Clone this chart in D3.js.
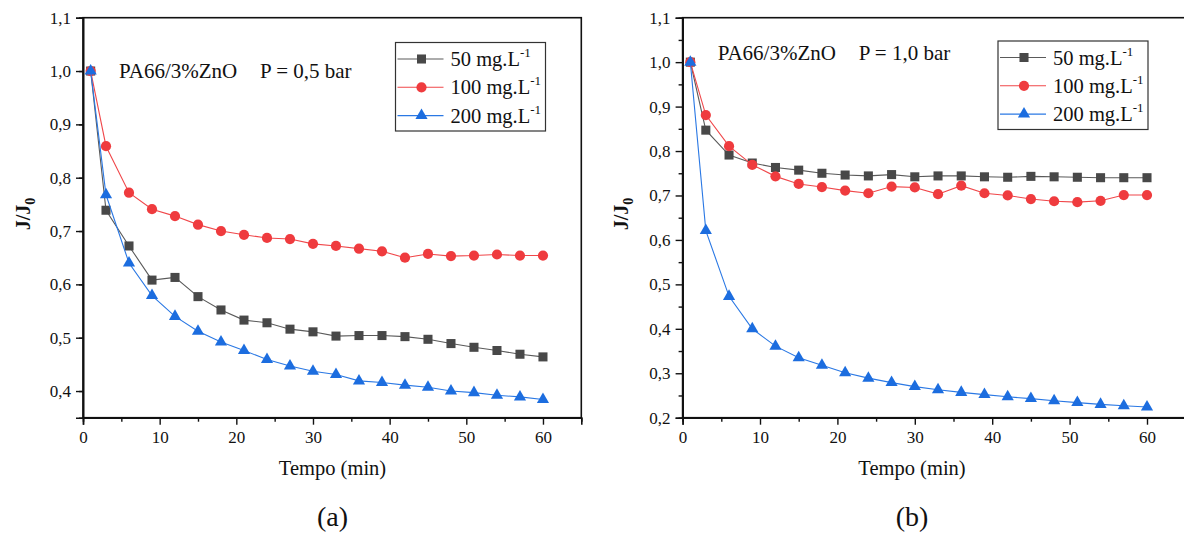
<!DOCTYPE html>
<html>
<head>
<meta charset="utf-8">
<script src="https://cdn.jsdelivr.net/npm/d3@7"></script>
<style>
  body { margin: 0; background: #fff; }
</style>
</head>
<body>
<svg id="chart" width="1184" height="533"></svg>
<script>
(function () {
  'use strict';

  // tempo (min)
  var tempo = [1, 3, 6, 9, 12, 15, 18, 21, 24, 27, 30, 33, 36, 39, 42, 45, 48, 51, 54, 57, 60];

  // (a) P = 0,5 bar
  var a50 = [1.0, 0.739, 0.672, 0.608, 0.613, 0.577, 0.552, 0.533, 0.528, 0.516, 0.511,
             0.503, 0.504, 0.504, 0.502, 0.497, 0.489, 0.482, 0.476, 0.469, 0.464];
  var a100 = [1.0, 0.859, 0.772, 0.741, 0.728, 0.712, 0.700, 0.693, 0.687, 0.685, 0.676,
              0.672, 0.667, 0.662, 0.650, 0.657, 0.653, 0.654, 0.656, 0.654, 0.654];
  var a200 = [1.0, 0.768, 0.640, 0.579, 0.540, 0.512, 0.492, 0.476, 0.459, 0.447, 0.437,
              0.431, 0.419, 0.416, 0.411, 0.407, 0.400, 0.397, 0.392, 0.389, 0.384];

  // (b) P = 1,0 bar
  var b50 = [1.0, 0.847, 0.791, 0.773, 0.763, 0.757, 0.750, 0.746, 0.744, 0.747, 0.742,
             0.744, 0.744, 0.742, 0.741, 0.743, 0.742, 0.741, 0.740, 0.740, 0.740];
  var b100 = [1.0, 0.881, 0.811, 0.769, 0.743, 0.726, 0.719, 0.711, 0.705, 0.720, 0.718,
              0.703, 0.722, 0.705, 0.700, 0.692, 0.687, 0.685, 0.688, 0.701, 0.701];
  var b200 = [1.0, 0.621, 0.473, 0.400, 0.361, 0.335, 0.318, 0.301, 0.289, 0.279, 0.270,
              0.263, 0.257, 0.252, 0.247, 0.243, 0.238, 0.234, 0.230, 0.227, 0.224];

  var seriesNames = ['50 mg.L', '100 mg.L', '200 mg.L'];
  var xTicks = [0, 10, 20, 30, 40, 50, 60];
  var yTicksA = [0.4, 0.5, 0.6, 0.7, 0.8, 0.9, 1.0, 1.1];
  var yTicksB = [0.2, 0.3, 0.4, 0.5, 0.6, 0.7, 0.8, 0.9, 1.0, 1.1];

  var styles = [
    {line: '#5a5a5a', fill: '#484848', shape: d3.symbolSquare},
    {line: '#f0474a', fill: '#ef3b3e', shape: d3.symbolCircle},
    {line: '#2a78e4', fill: '#1c6ddf', shape: d3.symbolTriangle}
  ];

  var FONT = '"Liberation Serif", "Times New Roman", serif';
  var svg = d3.select('#chart');
  var comma = function (v) { return d3.format('.1f')(v).replace('.', ','); };

  function drawPanel(p) {
    var x = d3.scaleLinear().domain([0, 65]).range([p.left, p.right]),
        y = d3.scaleLinear().domain(p.yDomain).range([417.7, 17.7]);

    var g = svg.append('g');

    // frame
    g.append('rect')
        .attr('x', x(0)).attr('y', y(p.yDomain[1]))
        .attr('width', x(65) - x(0)).attr('height', y(p.yDomain[0]) - y(p.yDomain[1]))
        .attr('fill', 'none').attr('stroke', '#111').attr('stroke-width', 1.6);

    // x axis
    var xAxis = d3.axisBottom(x).tickValues(xTicks).tickSize(7).tickPadding(6).tickFormat(d3.format('d'));
    g.append('g').attr('transform', 'translate(0,' + y(p.yDomain[0]) + ')').call(xAxis);
    g.append('g').attr('transform', 'translate(0,' + y(p.yDomain[0]) + ')')
        .call(d3.axisBottom(x).tickValues(d3.range(5, 65, 10)).tickSize(4).tickFormat(''));

    // y axis
    var yAxis = d3.axisLeft(y).tickValues(p.yTicks).tickSize(7).tickPadding(5).tickFormat(comma);
    g.append('g').attr('transform', 'translate(' + x(0) + ',0)').call(yAxis);
    var minor = d3.range(p.yDomain[0] + 0.05, p.yDomain[1], 0.1);
    g.append('g').attr('transform', 'translate(' + x(0) + ',0)')
        .call(d3.axisLeft(y).tickValues(minor).tickSize(4).tickFormat(''));

    g.selectAll('.domain').attr('stroke', '#111').attr('stroke-width', 1.6);
    g.selectAll('.tick line').attr('stroke', '#111').attr('stroke-width', 1.4);
    g.selectAll('.tick text').style('font-size', '17px').attr('fill', '#111');

    // series
    var line = d3.line().x(function (d) { return x(d[0]); }).y(function (d) { return y(d[1]); });
    p.series.forEach(function (vals, i) {
      var pts = tempo.map(function (t, j) { return [t, vals[j]]; });
      var st = styles[i];
      g.append('path').datum(pts).attr('d', line)
          .attr('fill', 'none').attr('stroke', st.line).attr('stroke-width', 1.1);
      g.selectAll('.m' + i).data(pts).enter().append('path')
          .attr('transform', function (d) { return 'translate(' + x(d[0]) + ',' + y(d[1]) + ')'; })
          .attr('d', d3.symbol().type(st.shape).size(i === 2 ? 64 : 82))
          .attr('fill', st.fill);
    });

    // legend
    var lg = g.append('g');
    lg.append('rect')
        .attr('x', p.legend[0]).attr('y', p.legend[1])
        .attr('width', 150).attr('height', 88.5)
        .attr('fill', '#fff').attr('stroke', '#333').attr('stroke-width', 1.2);
    seriesNames.forEach(function (name, i) {
      var cy = p.legend[1] + 16.5 + i * 28.3, lx = p.legend[0] + 2;
      lg.append('line').attr('x1', lx).attr('x2', lx + 46).attr('y1', cy).attr('y2', cy)
          .attr('stroke', styles[i].line).attr('stroke-width', 1.1);
      lg.append('path').attr('transform', 'translate(' + (lx + 24) + ',' + cy + ')')
          .attr('d', d3.symbol().type(styles[i].shape).size(i === 2 ? 64 : 82))
          .attr('fill', styles[i].fill);
      var t = lg.append('text').attr('x', lx + 53).attr('y', cy + 7).style('font-size', '20.5px');
      t.append('tspan').text(name);
      t.append('tspan').style('font-size', '13px').attr('dy', -9).text('-1');
    });

    // annotation
    var note = g.append('text').attr('y', p.note[1]).style('font-size', '21px');
    note.append('tspan').attr('x', p.note[0]).text('PA66/3%ZnO');
    note.append('tspan').attr('x', p.note[0] + 141).text('P = ' + p.pressure + ' bar');

    // axis titles
    g.append('text').attr('x', p.titleX).attr('y', 475).attr('text-anchor', 'middle')
        .style('font-size', '20.5px').text('Tempo (min)');
    var yt = g.append('text')
        .attr('transform', 'translate(' + p.yTitleX + ',' + 214 + ') rotate(-90)')
        .attr('text-anchor', 'middle').style('font-size', '20px').style('font-weight', 'bold');
    yt.append('tspan').text('J/J');
    yt.append('tspan').style('font-size', '14px').attr('dy', 5).text('0');

    g.append('text').attr('x', p.titleX).attr('y', 526).attr('text-anchor', 'middle')
        .style('font-size', '28px').text(p.label);
  }

  drawPanel({
    left: 83, right: 581.3, yDomain: [0.35, 1.1], yTicks: yTicksA,
    series: [a50, a100, a200], legend: [395.5, 42.5], note: [119, 77.5],
    pressure: '0,5', titleX: 332.5, yTitleX: 30, label: '(a)'
  });

  drawPanel({
    left: 682.6, right: 1185.7, yDomain: [0.2, 1.1], yTicks: yTicksB,
    series: [b50, b100, b200], legend: [998, 41], note: [717.7, 59.5],
    pressure: '1,0', titleX: 912, yTitleX: 628, label: '(b)'
  });

  svg.selectAll('text').style('font-family', FONT).attr('fill', '#111');
}());
</script>
</body>
</html>
